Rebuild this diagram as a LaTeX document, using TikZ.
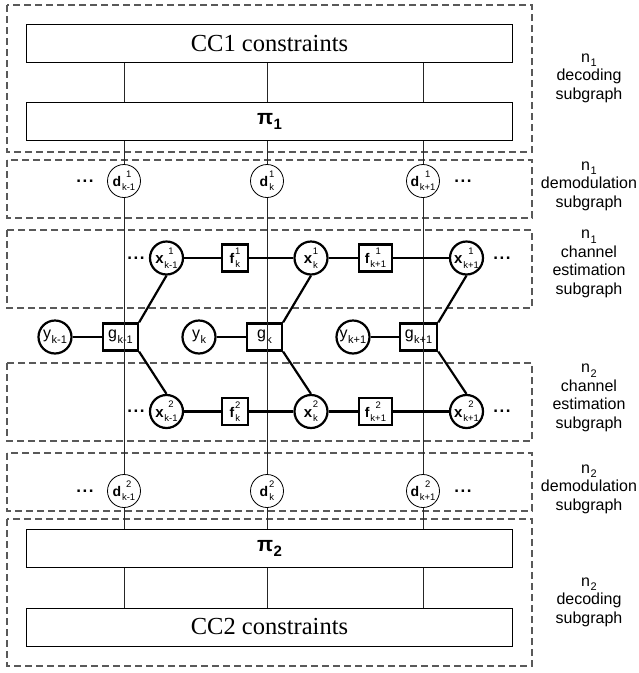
\documentclass[tikz,border=0pt]{standalone}
\usepackage{amsmath}
\usepackage{fontspec}
\setmainfont{Liberation Sans}
\newfontfamily\serifff{Liberation Serif}
\newsavebox\supbox
\newsavebox\subbox
\newlength\stw
\newcommand{\lbl}[3]{\textbf{#1}\kern0.8pt%
 \sbox\supbox{\fontsize{9.5}{9.5}\selectfont #2}%
 \sbox\subbox{\fontsize{9.5}{9.5}\selectfont #3}%
 \setlength\stw{\wd\subbox}%
 \ifdim\wd\supbox>\stw\setlength\stw{\wd\supbox}\fi
 \rlap{\raisebox{0.62em}{\makebox[\stw]{\usebox\supbox}}}%
 \raisebox{-0.3em}{\makebox[\stw]{\usebox\subbox}}}
\newcommand{\lbr}[2]{#1\kern0.5pt\raisebox{-0.3em}{\fontsize{11}{11}\selectfont #2}}
\tikzset{
 thinln/.style={line width=0.8pt, draw=black!85},
 thk/.style={line width=2.2pt},
 grp/.style={draw=black!65, dash pattern=on 7pt off 4pt, line width=1.1pt},
 bigbox/.style={draw, line width=0.9pt, minimum width=486pt, minimum height=38pt, inner sep=0pt},
 dnode/.style={circle, draw, line width=0.8pt, minimum size=33pt, inner sep=0pt, font=\fontsize{14}{14}\selectfont},
 xnode/.style={circle, draw, line width=2.2pt, minimum size=33pt, inner sep=0pt, font=\fontsize{15}{15}\selectfont},
 ynode/.style={xnode, font=\fontsize{16}{16}\selectfont},
 fnode/.style={rectangle, draw, line width=2.2pt, minimum width=26pt, minimum height=27pt, inner xsep=6pt, inner ysep=0pt, font=\fontsize{14}{14}\selectfont},
 gnode/.style={rectangle, draw, line width=2.2pt, minimum width=35pt, minimum height=27pt, inner xsep=5pt, inner ysep=0pt, font=\fontsize{16}{16}\selectfont},
 lab/.style={align=center, font=\fontsize{16}{18.5}\selectfont},
 dots/.style={font=\fontsize{17}{17}\selectfont\bfseries, inner sep=0pt},
}
\newcommand{\nlab}[1]{n\kern0.5pt\raisebox{-0.3em}{\fontsize{11}{11}\selectfont #1}}
\newcommand{\pilab}[1]{π\kern0.5pt\raisebox{-0.28em}{\fontsize{15}{15}\selectfont #1}}
\begin{document}
\begin{tikzpicture}[x=1pt,y=-1pt]
\useasboundingbox (0,0) rectangle (639,673);
% dashed subgraph frames
\draw[grp] (7,5) rectangle (532,152);
\draw[grp] (7,160) rectangle (532,218);
\draw[grp] (7,230) rectangle (532,308);
\draw[grp] (7,363) rectangle (532,441);
\draw[grp] (7,453) rectangle (532,511);
\draw[grp] (7,519) rectangle (532,666);
% big boxes
\node[bigbox, font=\serifff\fontsize{24.5}{24.5}\selectfont] (cc1) at (269.5,43.5) {CC1 constraints};
\node[bigbox, font=\fontsize{21}{21}\selectfont\bfseries] (pi1) at (269.5,121.5) {\pilab{1}};
\node[bigbox, font=\fontsize{21}{21}\selectfont\bfseries] (pi2) at (269.5,548.5) {\pilab{2}};
\node[bigbox, font=\serifff\fontsize{24.5}{24.5}\selectfont] (cc2) at (269.5,627) {CC2 constraints};
% demodulation nodes
\node[dnode] (da1) at (124,181) {\lbl{d}{1}{k-1}};
\node[dnode] (db1) at (267,181) {\lbl{d}{1}{k}};
\node[dnode] (dc1) at (423,181) {\lbl{d}{1}{k+1}};
\node[dnode] (da2) at (124,491) {\lbl{d}{2}{k-1}};
\node[dnode] (db2) at (267,491) {\lbl{d}{2}{k}};
\node[dnode] (dc2) at (423,491) {\lbl{d}{2}{k+1}};
% channel estimation nodes
\node[xnode] (xa1) at (166.5,258) {\lbl{x}{1}{k-1}};
\node[fnode] (fb1) at (235,258) {\lbl{f}{1}{k}};
\node[xnode] (xb1) at (311,258) {\lbl{x}{1}{k}};
\node[fnode] (fc1) at (375.5,258) {\lbl{f}{1}{k+1}};
\node[xnode] (xc1) at (466.5,258) {\lbl{x}{1}{k+1}};
\node[xnode] (xa2) at (166.5,411.5) {\lbl{x}{2}{k-1}};
\node[fnode] (fb2) at (235,411.5) {\lbl{f}{2}{k}};
\node[xnode] (xb2) at (311,411.5) {\lbl{x}{2}{k}};
\node[fnode] (fc2) at (375.5,411.5) {\lbl{f}{2}{k+1}};
\node[xnode] (xc2) at (466.5,411.5) {\lbl{x}{2}{k+1}};
% observation nodes
\node[ynode] (ya) at (55,337) {\lbr{y}{k-1}};
\node[ynode] (yb) at (199,337) {\lbr{y}{k}};
\node[ynode] (yc) at (353,337) {\lbr{y}{k+1}};
\node[gnode] (ga) at (120.5,337) {\lbr{g}{k-1}};
\node[gnode] (gb) at (264.5,337) {\lbr{g}{k}};
\node[gnode] (gc) at (418.5,337) {\lbr{g}{k+1}};
% dots
\node[dots] (p1) at (85,181) {.\kern1.6pt.\kern1.6pt.};
\node[dots] (p2) at (463,181) {.\kern1.6pt.\kern1.6pt.};
\node[dots] (p3) at (136,258) {.\kern1.6pt.\kern1.6pt.};
\node[dots] (p4) at (502,258) {.\kern1.6pt.\kern1.6pt.};
\node[dots] (p5) at (136,411.5) {.\kern1.6pt.\kern1.6pt.};
\node[dots] (p6) at (502,411.5) {.\kern1.6pt.\kern1.6pt.};
\node[dots] (p7) at (85,491) {.\kern1.6pt.\kern1.6pt.};
\node[dots] (p8) at (463,491) {.\kern1.6pt.\kern1.6pt.};
% vertical connectors
\foreach \c in {a,b,c}{
  \draw[thinln] (cc1.south -| d\c1) -- (pi1.north -| d\c1);
  \draw[thinln] (pi1.south -| d\c1) -- (d\c1);
  \draw[thinln] (d\c1) -- (d\c2);
  \draw[thinln] (d\c2) -- (pi2.north -| d\c2);
  \draw[thinln] (pi2.south -| d\c2) -- (cc2.north -| d\c2);
}
% thick connectors
\draw[thk] (xa1) -- (fb1) -- (xb1) -- (fc1) -- (xc1);
\draw[thk] (xa2) -- (fb2) -- (xb2) -- (fc2) -- (xc2);
\draw[thk] (ya) -- (ga);
\draw[thk] (yb) -- (gb);
\draw[thk] (yc) -- (gc);
\draw[thk] (ga.north east) -- (xa1.south);
\draw[thk] (gb.north east) -- (xb1.south);
\draw[thk] (gc.north east) -- (xc1.south);
\draw[thk] (ga.south east) -- (xa2.north);
\draw[thk] (gb.south east) -- (xb2.north);
\draw[thk] (gc.south east) -- (xc2.north);
% side labels
\node[lab] (l1) at (589,78) {\nlab{1}\\decoding\\subgraph};
\node[lab] (l2) at (589,186) {\nlab{1}\\demodulation\\subgraph};
\node[lab] (l3) at (589,264) {\nlab{1}\\channel\\estimation\\subgraph};
\node[lab] (l4) at (589,398) {\nlab{2}\\channel\\estimation\\subgraph};
\node[lab] (l5) at (589,489) {\nlab{2}\\demodulation\\subgraph};
\node[lab] (l6) at (589,602) {\nlab{2}\\decoding\\subgraph};
\end{tikzpicture}
\end{document}
